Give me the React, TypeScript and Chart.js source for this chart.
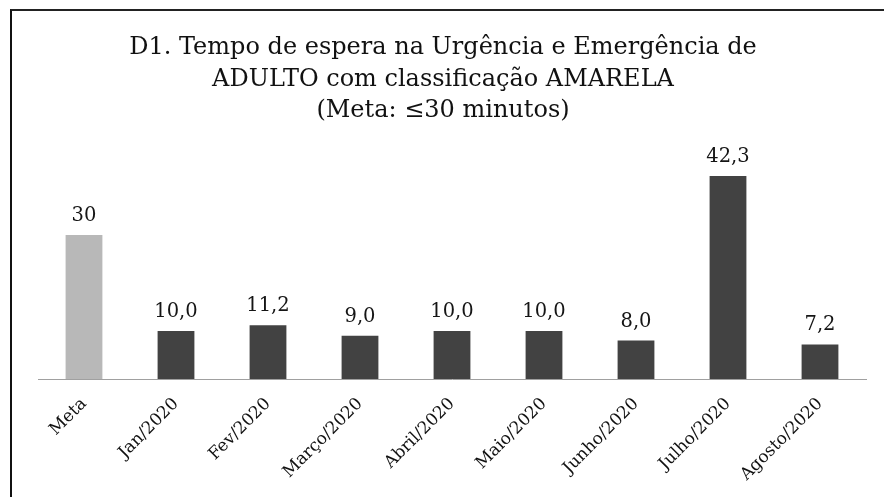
import React, { useEffect, useRef } from "react";
import { Chart, registerables } from "chart.js";

Chart.register(...registerables);

const categories = [
  "Meta",
  "Jan/2020",
  "Fev/2020",
  "Março/2020",
  "Abril/2020",
  "Maio/2020",
  "Junho/2020",
  "Julho/2020",
  "Agosto/2020",
];
const values = [30, 10.0, 11.2, 9.0, 10.0, 10.0, 8.0, 42.3, 7.2];
const labelDecimals = [0, 1, 1, 1, 1, 1, 1, 1, 1];
const barColors = [
  "#b8b8b8",
  "#424242",
  "#424242",
  "#424242",
  "#424242",
  "#424242",
  "#424242",
  "#424242",
  "#424242",
];
const titleLines = [
  "D1. Tempo de espera na Urgência e Emergência de",
  "ADULTO com classificação AMARELA",
  "(Meta: ≤30 minutos)",
];

const W = 884;
const H = 497;
const FONT = "'DejaVu Serif', 'Liberation Serif', serif";

const valueLabelPlugin = {
  id: "valueLabels",
  afterDatasetsDraw(chart: any) {
    const ctx = chart.ctx;
    const meta = chart.getDatasetMeta(0);
    ctx.save();
    ctx.font = `19.5px ${FONT}`;
    ctx.fillStyle = "#151515";
    ctx.textAlign = "center";
    ctx.textBaseline = "alphabetic";
    meta.data.forEach((bar: any, i: number) => {
      const txt = values[i].toFixed(labelDecimals[i]).replace(".", ",");
      ctx.fillText(txt, bar.x, bar.y - 14);
    });
    ctx.restore();
  },
};

const titlePlugin = {
  id: "centeredTitle",
  afterDraw(chart: any) {
    const ctx = chart.ctx;
    ctx.save();
    ctx.font = `24px ${FONT}`;
    ctx.fillStyle = "#111";
    ctx.textAlign = "center";
    ctx.textBaseline = "alphabetic";
    titleLines.forEach((line, i) => {
      ctx.fillText(line, 443, 54 + i * 31.5);
    });
    ctx.restore();
  },
};

export default function App() {
  const ref = useRef<HTMLCanvasElement>(null);
  useEffect(() => {
    if (!ref.current) return;
    const chart = new Chart(ref.current, {
      type: "bar",
      data: {
        labels: categories,
        datasets: [
          {
            data: values,
            backgroundColor: barColors,
            borderWidth: 0,
            categoryPercentage: 1,
            barPercentage: 0.4,
          },
        ],
      },
      options: {
        responsive: false,
        animation: false,
        devicePixelRatio: 1,
        layout: { padding: { left: 38, right: 18, top: 139, bottom: 0 } },
        plugins: {
          legend: { display: false },
          tooltip: { enabled: false },
          title: { display: false },
        },
        scales: {
          y: { display: false, min: 0, max: 50 },
          x: {
            grid: { display: false, drawTicks: false },
            border: { display: true, color: "#a0a0a0", dash: [2, 2], width: 1 },
            ticks: {
              autoSkip: false,
              maxRotation: 45,
              minRotation: 45,
              padding: 15,
              color: "#111",
              font: { family: FONT, size: 17 },
            },
            afterFit: (s: any) => {
              s.height = H - 379;
            },
          },
        },
      },
      plugins: [valueLabelPlugin, titlePlugin],
    });
    return () => chart.destroy();
  }, []);

  return (
    <div
      style={{
        position: "fixed",
        left: 0,
        top: 0,
        width: W,
        height: H,
        overflow: "hidden",
        background: "#fff",
      }}
    >
      <div
        style={{
          position: "absolute",
          left: 10,
          top: 9,
          width: 900,
          height: 600,
          borderLeft: "2px solid #111",
          borderTop: "2px solid #222",
        }}
      />
      <canvas
        ref={ref}
        width={W}
        height={H}
        style={{ position: "absolute", left: 0, top: 0 }}
      />
    </div>
  );
}
